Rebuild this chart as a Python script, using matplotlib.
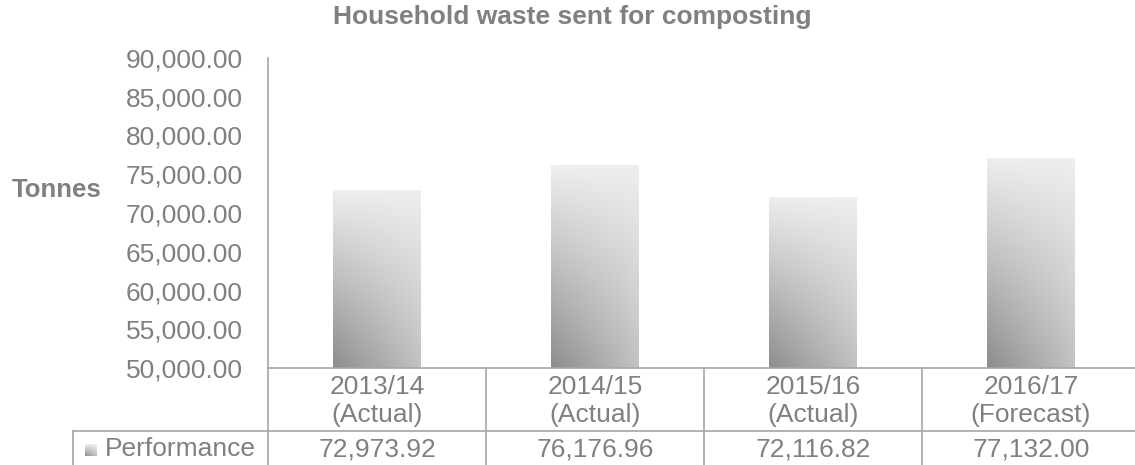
import numpy as np
import matplotlib
matplotlib.use('Agg')
import matplotlib.pyplot as plt

years = ['2013/14', '2014/15', '2015/16', '2016/17']
status = ['(Actual)', '(Actual)', '(Actual)', '(Forecast)']
performance = [72973.92, 76176.96, 72116.82, 77132.00]
yticks = [50000, 55000, 60000, 65000, 70000, 75000, 80000, 85000, 90000]

grey_text = '#808080'
line_col = '#a6a6a6'
plt.rcParams['font.family'] = ['Liberation Sans', 'DejaVu Sans']

W, H = 1135, 465
fig = plt.figure(figsize=(W / 100, H / 100), dpi=100)

# plot area in pixels: x 268..1140, y 58..368
x0, x1, ytop, ybot = 268, 1140, 58, 368
ax = fig.add_axes([x0 / W, 1 - ybot / H, (x1 - x0) / W, (ybot - ytop) / H])


def gradient_img(n=200):
    yy, xx = np.mgrid[0:1:n * 1j, 0:1:n * 1j]
    d = (1 - yy) * (1 - 0.55 * xx)
    return 238 / 255 - d * (238 - 140) / 255


grad = gradient_img()
bars = ax.bar(range(len(years)), np.array(performance) - yticks[0],
              bottom=yticks[0], width=0.4, color='none', edgecolor='none')
for b in bars:
    bx, by = b.get_x(), b.get_y()
    im = ax.imshow(grad, cmap='gray', vmin=0, vmax=1, origin='lower',
                   extent=[bx, bx + b.get_width(), by, by + b.get_height()],
                   aspect='auto', zorder=2)
    im.set_clip_path(b)
ax.set_xlim(-0.5, len(years) - 0.5)
ax.set_ylim(yticks[0], yticks[-1])

for s in ['top', 'right', 'bottom']:
    ax.spines[s].set_visible(False)
ax.spines['left'].set_color(line_col)
ax.spines['left'].set_linewidth(1.2)
ax.set_xticks([])
ax.set_yticks(yticks)
ax.set_yticklabels(['{:,.2f}'.format(v) for v in yticks])
ax.tick_params(axis='y', length=0, pad=18, labelsize=19, labelcolor=grey_text)

# data table below the plot
def px(x, y):
    return x / W, 1 - y / H

row1, row2 = 368, 431
col_edges = [x0 + i * (x1 - x0) / len(years) for i in range(len(years) + 1)]
kw = dict(color=line_col, lw=1.2)
fig.add_artist(plt.Line2D([x0 / W, 1], [1 - row1 / H] * 2, **kw))
fig.add_artist(plt.Line2D([73 / W, 1], [1 - row2 / H] * 2, **kw))
fig.add_artist(plt.Line2D([73 / W] * 2, [1 - row2 / H, 0], **kw))
for cx in col_edges[:-1]:
    fig.add_artist(plt.Line2D([cx / W] * 2, [1 - row1 / H, 0], **kw))

fs = 19
for i in range(len(years)):
    cx = (col_edges[i] + col_edges[i + 1]) / 2
    fig.text(*px(cx, 387), years[i], ha='center', va='center',
             fontsize=fs, color=grey_text)
    fig.text(*px(cx, 415), status[i], ha='center', va='center',
             fontsize=fs, color=grey_text)
    fig.text(*px(cx, 449), '{:,.2f}'.format(performance[i]), ha='center',
             va='center', fontsize=fs, color=grey_text)

fig.text(*px(105, 449), 'Performance', ha='left', va='center',
         fontsize=fs, color=grey_text)
kax = fig.add_axes([85 / W, 1 - 456 / H, 12 / W, 12 / H])
kax.imshow(grad, cmap='gray', vmin=0, vmax=1, origin='lower', aspect='auto')
kax.axis('off')

fig.text(*px(572, 17), 'Household waste sent for composting', ha='center',
         va='center', fontsize=19, fontweight='bold', color=grey_text)
fig.text(*px(12, 190), 'Tonnes', ha='left', va='center',
         fontsize=18.5, fontweight='bold', color=grey_text)

fig.savefig('out.png', dpi=100)
